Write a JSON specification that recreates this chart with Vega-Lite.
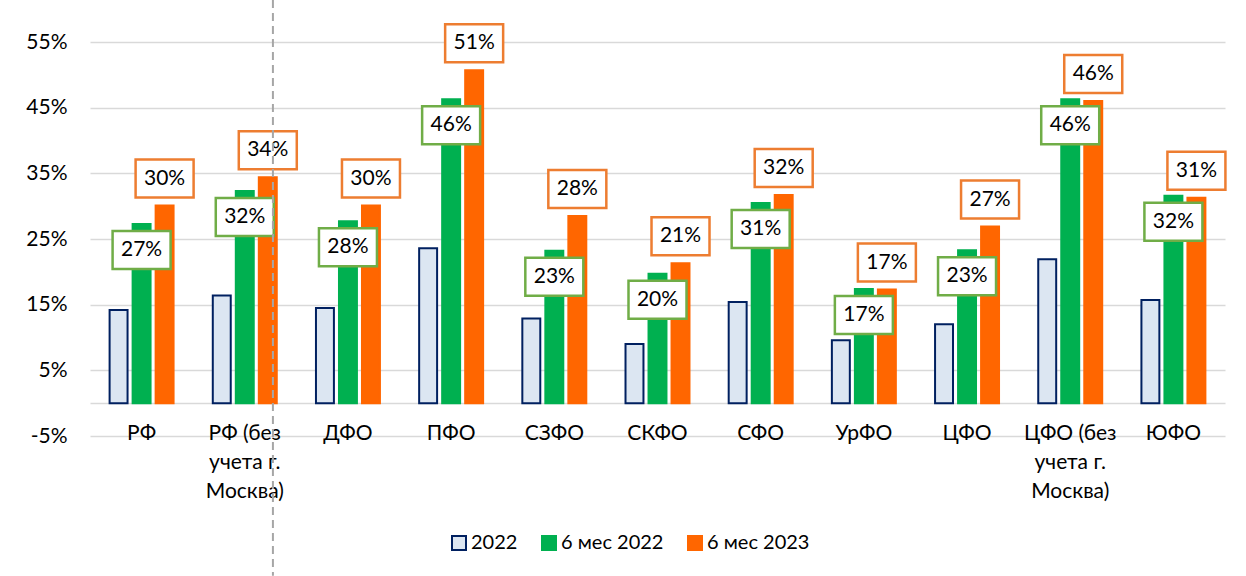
{
  "$schema": "https://vega.github.io/schema/vega-lite/v6.json",
  "autosize": {"type": "none"},
  "padding": {"left": 90, "top": 42, "right": 21, "bottom": 140},
  "width": 1135,
  "height": 394,
  "background": "white",
  "config": {
    "font": "Lato",
    "view": {"stroke": null},
    "axis": {"labelFont": "Lato", "labelColor": "#000000", "labelFontSize": 21}
  },
  "datasets": {
    "bars": [
      {"cat": "РФ", "series": "2022", "v": 0.142},
      {"cat": "РФ", "series": "6 мес 2022", "v": 0.273},
      {"cat": "РФ", "series": "6 мес 2023", "v": 0.301},
      {"cat": "РФ (без учета г. Москва)", "series": "2022", "v": 0.164},
      {"cat": "РФ (без учета г. Москва)", "series": "6 мес 2022", "v": 0.323},
      {"cat": "РФ (без учета г. Москва)", "series": "6 мес 2023", "v": 0.344},
      {"cat": "ДФО", "series": "2022", "v": 0.145},
      {"cat": "ДФО", "series": "6 мес 2022", "v": 0.277},
      {"cat": "ДФО", "series": "6 мес 2023", "v": 0.301},
      {"cat": "ПФО", "series": "2022", "v": 0.236},
      {"cat": "ПФО", "series": "6 мес 2022", "v": 0.463},
      {"cat": "ПФО", "series": "6 мес 2023", "v": 0.507},
      {"cat": "СЗФО", "series": "2022", "v": 0.129},
      {"cat": "СЗФО", "series": "6 мес 2022", "v": 0.232},
      {"cat": "СЗФО", "series": "6 мес 2023", "v": 0.285},
      {"cat": "СКФО", "series": "2022", "v": 0.090},
      {"cat": "СКФО", "series": "6 мес 2022", "v": 0.197},
      {"cat": "СКФО", "series": "6 мес 2023", "v": 0.213},
      {"cat": "СФО", "series": "2022", "v": 0.154},
      {"cat": "СФО", "series": "6 мес 2022", "v": 0.305},
      {"cat": "СФО", "series": "6 мес 2023", "v": 0.317},
      {"cat": "УрФО", "series": "2022", "v": 0.096},
      {"cat": "УрФО", "series": "6 мес 2022", "v": 0.174},
      {"cat": "УрФО", "series": "6 мес 2023", "v": 0.173},
      {"cat": "ЦФО", "series": "2022", "v": 0.120},
      {"cat": "ЦФО", "series": "6 мес 2022", "v": 0.233},
      {"cat": "ЦФО", "series": "6 мес 2023", "v": 0.269},
      {"cat": "ЦФО (без учета г. Москва)", "series": "2022", "v": 0.219},
      {"cat": "ЦФО (без учета г. Москва)", "series": "6 мес 2022", "v": 0.463},
      {"cat": "ЦФО (без учета г. Москва)", "series": "6 мес 2023", "v": 0.460},
      {"cat": "ЮФО", "series": "2022", "v": 0.157},
      {"cat": "ЮФО", "series": "6 мес 2022", "v": 0.316},
      {"cat": "ЮФО", "series": "6 мес 2023", "v": 0.313}
    ],
    "divider": [
      {"cat": "РФ (без учета г. Москва)", "top": 0.614, "bottom": -0.263}
    ]
  },
  "data": {"name": "bars"},
  "encoding": {
    "x": {
      "field": "cat",
      "type": "nominal",
      "sort": null,
      "title": null,
      "scale": {"paddingInner": 0.38, "paddingOuter": 0.19},
      "axis": {
        "labelAngle": 0,
        "offset": -33,
        "domain": true,
        "domainColor": "#D9D9D9",
        "domainWidth": 1.5,
        "ticks": false,
        "labelPadding": 19,
        "labelBaseline": "top",
        "labelLineHeight": 29,
        "labelLimit": 200,
        "labelExpr": "split(replace(replace(datum.value, '(без ', '(без|'), ' г. ', ' г.|'), '|')"
      }
    },
    "y": {
      "field": "v",
      "type": "quantitative",
      "title": null,
      "scale": {"domain": [-0.05, 0.55], "nice": false, "zero": false},
      "axis": {
        "values": [-0.05, 0.05, 0.15, 0.25, 0.35, 0.45, 0.55],
        "format": ".0%",
        "labelExpr": "replace(datum.label, '−', '-')",
        "grid": true,
        "gridColor": "#D9D9D9",
        "gridWidth": 1.5,
        "domain": false,
        "ticks": false,
        "labelPadding": 23
      }
    }
  },
  "layer": [
    {
      "mark": {"type": "bar", "strokeWidth": 2},
      "encoding": {
        "xOffset": {
          "field": "series",
          "type": "nominal",
          "sort": ["2022", "6 мес 2022", "6 мес 2023"],
          "scale": {"paddingInner": 0.22, "paddingOuter": 0}
        },
        "y2": {"datum": 0},
        "fill": {
          "field": "series",
          "type": "nominal",
          "sort": ["2022", "6 мес 2022", "6 мес 2023"],
          "scale": {"domain": ["2022", "6 мес 2022", "6 мес 2023"], "range": ["#DCE6F2", "#00B050", "#FF6600"]},
          "legend": {
            "title": null,
            "orient": "none",
            "direction": "horizontal",
            "legendX": 359,
            "legendY": 491,
            "padding": 0,
            "symbolType": "square",
            "symbolSize": 196,
            "symbolStrokeWidth": 2,
            "labelFont": "Lato",
            "labelFontSize": 20,
            "labelColor": "#000000",
            "labelOffset": 2,
            "columnPadding": 20
          }
        },
        "stroke": {
          "field": "series",
          "type": "nominal",
          "sort": ["2022", "6 мес 2022", "6 мес 2023"],
          "scale": {"domain": ["2022", "6 мес 2022", "6 мес 2023"], "range": ["#002060", "#00B050", "#FF6600"]},
          "legend": null
        }
      }
    },
    {
      "transform": [{"filter": "datum.series == '6 мес 2023'"}],
      "mark": {
        "type": "point",
        "shape": "M-1,-0.655H1V0.655H-1Z",
        "size": 3364,
        "filled": true,
        "fill": "white",
        "fillOpacity": 1,
        "opacity": 1,
        "stroke": "#ED7D31",
        "strokeWidth": 2.5,
        "yOffset": -27
      },
      "encoding": {
        "xOffset": {"field": "series", "type": "nominal", "sort": ["2022", "6 мес 2022", "6 мес 2023"]}
      }
    },
    {
      "transform": [{"filter": "datum.series == '6 мес 2023'"}],
      "mark": {"type": "text", "fontSize": 21, "font": "Lato", "color": "#000000", "baseline": "middle", "yOffset": -27},
      "encoding": {
        "xOffset": {"field": "series", "type": "nominal", "sort": ["2022", "6 мес 2022", "6 мес 2023"]},
        "text": {"field": "v", "type": "quantitative", "format": ".0%"}
      }
    },
    {
      "transform": [{"filter": "datum.series == '6 мес 2022'"}],
      "mark": {
        "type": "point",
        "shape": "M-1,-0.655H1V0.655H-1Z",
        "size": 3364,
        "filled": true,
        "fill": "white",
        "fillOpacity": 1,
        "opacity": 1,
        "stroke": "#70AD47",
        "strokeWidth": 2.5,
        "yOffset": 26
      },
      "encoding": {
        "xOffset": {"field": "series", "type": "nominal", "sort": ["2022", "6 мес 2022", "6 мес 2023"]}
      }
    },
    {
      "transform": [{"filter": "datum.series == '6 мес 2022'"}],
      "mark": {"type": "text", "fontSize": 21, "font": "Lato", "color": "#000000", "baseline": "middle", "yOffset": 26},
      "encoding": {
        "xOffset": {"field": "series", "type": "nominal", "sort": ["2022", "6 мес 2022", "6 мес 2023"]},
        "text": {"field": "v", "type": "quantitative", "format": ".0%"}
      }
    },
    {
      "data": {"name": "divider"},
      "mark": {"type": "rule", "color": "#A6A6A6", "strokeWidth": 2, "strokeDash": [8, 5]},
      "encoding": {
        "x": {"field": "cat", "type": "nominal", "bandPosition": 0.94},
        "y": {"field": "top", "type": "quantitative"},
        "y2": {"field": "bottom"}
      }
    }
  ]
}
